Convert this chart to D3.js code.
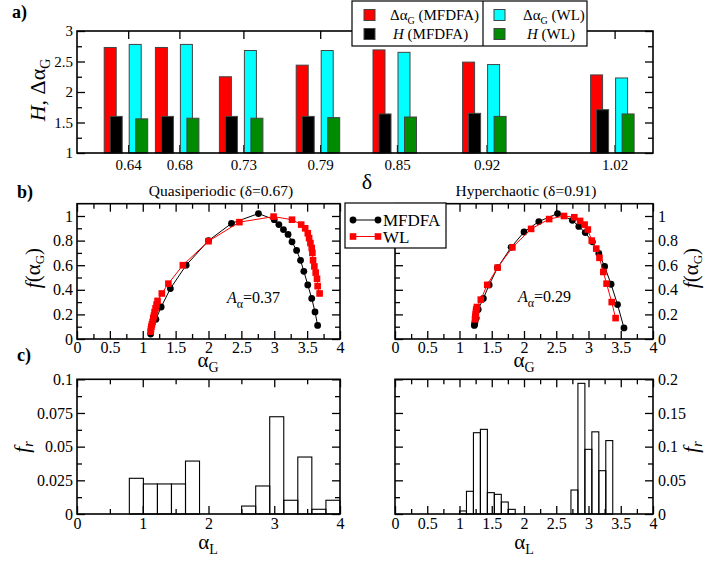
<!DOCTYPE html>
<html><head><meta charset="utf-8">
<script src="https://cdn.jsdelivr.net/npm/d3@7"></script>
<style>body{margin:0;background:#fff} svg text{font-family:"Liberation Serif","Times New Roman",Times,serif}</style>
</head><body><svg id="c" width="706" height="561"></svg>
<script>
// ---------------- DATA ----------------
// panel a
const deltas = [0.64, 0.68, 0.73, 0.79, 0.85, 0.92, 1.02];
const deltaLabels = ["0.64", "0.68", "0.73", "0.79", "0.85", "0.92", "1.02"];
const dAlphaMFDFA = [2.73, 2.73, 2.25, 2.44, 2.69, 2.49, 2.28];
const hMFDFA = [1.60, 1.60, 1.60, 1.60, 1.64, 1.65, 1.71];
const dAlphaWL = [2.78, 2.78, 2.68, 2.68, 2.65, 2.45, 2.23];
const hWL = [1.56, 1.57, 1.57, 1.58, 1.59, 1.60, 1.64];
const aYMajor = [1, 1.5, 2, 2.5, 3];
const aYMinor = [1.25, 1.75, 2.25, 2.75];

// panel b (quasiperiodic, delta = 0.67)
const qpMfdfaAlpha = [1.12, 1.20, 1.28, 1.42, 1.66, 2.00, 2.35, 2.76, 3.00, 3.07, 3.14, 3.21, 3.27, 3.34, 3.40, 3.45, 3.51, 3.57, 3.62, 3.66];
const qpMfdfaF     = [0.04, 0.16, 0.26, 0.41, 0.60, 0.80, 0.94, 1.02, 0.97, 0.93, 0.89, 0.85, 0.79, 0.72, 0.64, 0.55, 0.44, 0.33, 0.22, 0.11];
const qpWlAlpha = [1.12, 1.125, 1.13, 1.14, 1.15, 1.16, 1.17, 1.18, 1.195, 1.21, 1.225, 1.29, 1.39, 1.61, 2.00, 2.47, 2.99, 3.27, 3.41, 3.47, 3.51, 3.53, 3.55, 3.57, 3.58, 3.59, 3.61, 3.63, 3.65, 3.66, 3.69];
const qpWlF     = [0.06, 0.08, 0.10, 0.12, 0.14, 0.17, 0.19, 0.22, 0.25, 0.28, 0.31, 0.37, 0.45, 0.60, 0.795, 0.95, 0.995, 0.97, 0.93, 0.90, 0.86, 0.82, 0.78, 0.74, 0.70, 0.64, 0.59, 0.54, 0.49, 0.43, 0.37];
// panel b (hyperchaotic, delta = 0.91)
const hcMfdfaAlpha = [1.23, 1.235, 1.24, 1.26, 1.29, 1.37, 1.46, 1.59, 1.80, 2.00, 2.23, 2.52, 2.75, 2.85, 2.95, 3.06, 3.16, 3.25, 3.35, 3.45, 3.55];
const hcMfdfaF     = [0.11, 0.12, 0.14, 0.17, 0.24, 0.33, 0.44, 0.58, 0.745, 0.87, 0.955, 1.02, 0.965, 0.915, 0.865, 0.79, 0.695, 0.59, 0.445, 0.28, 0.09];
const hcWlAlpha = [1.24, 1.245, 1.25, 1.255, 1.26, 1.27, 1.33, 1.43, 1.59, 1.82, 2.11, 2.39, 2.62, 2.78, 2.87, 2.94, 2.99, 3.05, 3.12, 3.17, 3.23, 3.28, 3.36, 3.42];
const hcWlF     = [0.16, 0.18, 0.20, 0.22, 0.24, 0.26, 0.32, 0.44, 0.58, 0.745, 0.895, 0.975, 1.00, 0.99, 0.96, 0.93, 0.89, 0.80, 0.735, 0.66, 0.545, 0.45, 0.30, 0.17];
const bXMajor = [0, 0.5, 1, 1.5, 2, 2.5, 3, 3.5, 4];
const bXLabels = ["0", "0.5", "1", "1.5", "2", "2.5", "3", "3.5", "4"];
const bXMinor = [0.25, 0.75, 1.25, 1.75, 2.25, 2.75, 3.25, 3.75];
const bYMajor = [0, 0.2, 0.4, 0.6, 0.8, 1];
const bYLabels = ["0", "0.2", "0.4", "0.6", "0.8", "1"];
const bYMinor = [0.1, 0.3, 0.5, 0.7, 0.9];

// panel c histograms
const histLStart = [0.796, 1.010, 1.223, 1.437, 1.650, 2.504, 2.718, 2.931, 3.145, 3.358, 3.572, 3.786];
const histLHeight = [0.0265, 0.0223, 0.0223, 0.0223, 0.0393, 0.0059, 0.0208, 0.0722, 0.0102, 0.0423, 0.0035, 0.0102];
const histLWidth = 0.2136;
const histRStart = [1.000, 1.108, 1.216, 1.324, 1.432, 1.540, 1.648, 1.756, 2.728, 2.836, 2.944, 3.052, 3.160, 3.268];
const histRHeight = [0.0045, 0.0337, 0.1207, 0.1257, 0.0317, 0.0292, 0.0178, 0.0069, 0.0356, 0.194, 0.096, 0.122, 0.0643, 0.109];
const histRWidth = 0.108;
const cLXMajor = [0, 1, 2, 3, 4];
const cLXLabels = ["0", "1", "2", "3", "4"];
const cLXMinor = [0.5, 1.5, 2.5, 3.5];
const cLYMajor = [0, 0.025, 0.05, 0.075, 0.1];
const cLYLabels = ["0", "0.025", "0.05", "0.075", "0.1"];
const cLYMinor = [0.0125, 0.0375, 0.0625, 0.0875];
const cRYMajor = [0, 0.05, 0.1, 0.15, 0.2];
const cRYLabels = ["0", "0.05", "0.1", "0.15", "0.2"];
const cRYMinor = [0.025, 0.075, 0.125, 0.175];

// ---------------- DRAW ----------------
const FONT = '"Liberation Serif","Times New Roman",Times,serif';
const svg = d3.select("#c");
svg.append("rect").attr("width", 706).attr("height", 561).attr("fill", "#fff");

function lab(arr, vals) { return d => arr[vals.indexOf(d)]; }

function axes(g, x, y, o) {
  const [x0, x1] = x.range(), [y0, y1] = y.range();
  const mk = (axis, tr, fs) => {
    const a = g.append("g").attr("transform", tr).call(axis);
    a.attr("font-family", FONT).attr("font-size", fs || 15);
    a.select(".domain").remove();
    a.selectAll("line").attr("stroke", "#000").attr("stroke-width", 1.3);
    a.selectAll("text").attr("fill", "#000");
    a.selectAll("text").filter(function () { return this.textContent === ""; }).remove();
    return a;
  };
  const M = 8, m = 5;
  mk(d3.axisBottom(x).tickValues(o.xMaj).tickSize(-M).tickPadding(o.xPad).tickFormat(o.xFmt || ""), `translate(0,${y0})`, o.fs);
  if (o.xMin) mk(d3.axisBottom(x).tickValues(o.xMin).tickSize(-m).tickFormat(""), `translate(0,${y0})`);
  mk(d3.axisTop(x).tickValues(o.xTop || o.xMaj).tickSize(-M).tickFormat(""), `translate(0,${y1})`);
  if (o.xMin) mk(d3.axisTop(x).tickValues(o.xMin).tickSize(-m).tickFormat(""), `translate(0,${y1})`);
  const lf = o.yRight ? "" : o.yFmt, rf = o.yRight ? o.yFmt : "";
  mk(d3.axisLeft(y).tickValues(o.yMaj).tickSize(-M).tickPadding(o.yPad).tickFormat(lf || ""), `translate(${x0},0)`, o.fs);
  mk(d3.axisLeft(y).tickValues(o.yMin).tickSize(-m).tickFormat(""), `translate(${x0},0)`);
  mk(d3.axisRight(y).tickValues(o.yMaj).tickSize(-M).tickPadding(o.yPad).tickFormat(rf || ""), `translate(${x1},0)`, o.fs);
  mk(d3.axisRight(y).tickValues(o.yMin).tickSize(-m).tickFormat(""), `translate(${x1},0)`);
}
function frame(g, x, y) {
  const [x0, x1] = x.range(), [y0, y1] = y.range();
  g.append("rect").attr("x", x0).attr("y", y1).attr("width", x1 - x0).attr("height", y0 - y1)
    .attr("fill", "none").attr("stroke", "#000").attr("stroke-width", 1.6);
}
function txt(x, y, size, opts) {
  const t = svg.append("text").attr("x", x).attr("y", y).attr("font-family", FONT)
    .attr("font-size", size).attr("fill", "#000");
  if (opts && opts.anchor) t.attr("text-anchor", opts.anchor);
  if (opts && opts.rot) t.attr("transform", `rotate(${opts.rot},${x},${y})`);
  if (opts && opts.bold) t.attr("font-weight", "bold");
  return t;
}
function span(t, s, o) {
  const e = t.append("tspan").text(s);
  if (o && o.it) e.attr("font-style", "italic");
  if (o && o.dy) e.attr("dy", o.dy);
  if (o && o.fs) e.attr("font-size", o.fs);
  return e;
}

// ===== Panel a =====
const ga = svg.append("g");
const xa = d3.scaleLinear().domain([0.6, 1.05]).range([77, 653]);
const ya = d3.scaleLinear().domain([1, 3]).range([153, 31]);
axes(ga, xa, ya, {
  xMaj: deltas, xPad: 6, xFmt: lab(deltaLabels, deltas),
  yMaj: aYMajor, yMin: aYMinor, yPad: 4, yFmt: d3.format("~g"), fs: 15
});
const barW = 12;
const series = [
  { v: dAlphaMFDFA, c: "#ff0000", off: -18 },
  { v: hMFDFA, c: "#000000", off: -12 },
  { v: dAlphaWL, c: "#00ffff", off: 7 },
  { v: hWL, c: "#008b00", off: 13.5 }
];
series.forEach(s => {
  ga.selectAll(null).data(deltas).enter().append("rect")
    .attr("x", (d) => xa(d) + s.off - barW / 2)
    .attr("y", (d, i) => ya(s.v[i]))
    .attr("width", barW)
    .attr("height", (d, i) => ya(1) - ya(s.v[i]))
    .attr("fill", s.c).attr("stroke", "#444").attr("stroke-width", 1);
});
frame(ga, xa, ya);

// ===== Panel b =====
const yb = d3.scaleLinear().domain([0, 1.1]).range([339, 203.7]);
const xbL = d3.scaleLinear().domain([0, 4]).range([77, 340]);
const xbR = d3.scaleLinear().domain([0, 4]).range([395, 653]);
const gbL = svg.append("g"), gbR = svg.append("g");
const bOpts = { xMaj: bXMajor, xMin: bXMinor, xPad: 3, xFmt: lab(bXLabels, bXMajor),
  yMaj: bYMajor, yMin: bYMinor, yPad: 4, yFmt: lab(bYLabels, bYMajor), fs: 16 };
axes(gbL, xbL, yb, bOpts);
axes(gbR, xbR, yb, Object.assign({}, bOpts, { yRight: true, yPad: 5 }));
frame(gbL, xbL, yb); frame(gbR, xbR, yb);

function curve(g, x, y, ax, fy, color, marker) {
  const pts = ax.map((a, i) => [a, fy[i]]);
  g.append("path").datum(pts).attr("fill", "none").attr("stroke", color).attr("stroke-width", 1)
    .attr("d", d3.line().x(d => x(d[0])).y(d => y(d[1])));
  if (marker === "circle") {
    g.selectAll(null).data(pts).enter().append("circle")
      .attr("cx", d => x(d[0])).attr("cy", d => y(d[1])).attr("r", 3.4).attr("fill", color);
  } else {
    g.selectAll(null).data(pts).enter().append("rect")
      .attr("x", d => x(d[0]) - 3.3).attr("y", d => y(d[1]) - 3.3)
      .attr("width", 6.6).attr("height", 6.6).attr("fill", color);
  }
}
curve(gbL, xbL, yb, qpMfdfaAlpha, qpMfdfaF, "#000", "circle");
curve(gbL, xbL, yb, qpWlAlpha, qpWlF, "#ff0000", "square");
curve(gbR, xbR, yb, hcMfdfaAlpha, hcMfdfaF, "#000", "circle");
curve(gbR, xbR, yb, hcWlAlpha, hcWlF, "#ff0000", "square");

// ===== Panel c =====
const ycL = d3.scaleLinear().domain([0, 0.1]).range([514, 379.3]);
const ycR = d3.scaleLinear().domain([0, 0.2]).range([514, 379.3]);
const xcL = d3.scaleLinear().domain([0, 4]).range([77, 340]);
const xcR = d3.scaleLinear().domain([0, 4]).range([395, 653]);
const gcL = svg.append("g"), gcR = svg.append("g");
function hist(g, x, y, starts, hs, w) {
  g.selectAll(null).data(starts).enter().append("rect")
    .attr("x", d => x(d)).attr("width", d => x(d + w) - x(d))
    .attr("y", (d, i) => y(hs[i])).attr("height", (d, i) => y(0) - y(hs[i]))
    .attr("fill", "none").attr("stroke", "#000").attr("stroke-width", 1.1);
}
hist(gcL, xcL, ycL, histLStart, histLHeight, histLWidth);
hist(gcR, xcR, ycR, histRStart, histRHeight, histRWidth);
axes(gcL, xcL, ycL, { xMaj: cLXMajor, xMin: cLXMinor, xPad: 4, xFmt: lab(cLXLabels, cLXMajor),
  yMaj: cLYMajor, yMin: cLYMinor, yPad: 4, yFmt: lab(cLYLabels, cLYMajor), fs: 16 });
axes(gcR, xcR, ycR, { xMaj: bXMajor, xMin: bXMinor, xPad: 4, xFmt: lab(bXLabels, bXMajor),
  yMaj: cRYMajor, yMin: cRYMinor, yPad: 5, yFmt: lab(cRYLabels, cRYMajor), fs: 16, yRight: true });
frame(gcL, xcL, ycL); frame(gcR, xcR, ycR);

// ===== Texts =====
txt(12, 18, 18, { bold: true }).text("a)");
txt(17, 198, 18, { bold: true }).text("b)");
txt(17, 361, 18, { bold: true }).text("c)");

// panel a y label
{ const t = txt(45, 90, 22, { anchor: "middle", rot: -90 });
  span(t, "H", { it: true }); span(t, ", Δα"); span(t, "G", { dy: 5, fs: 14 }); }
// delta
txt(367, 189, 22, { anchor: "middle" }).text("δ");

// titles
txt(221, 196, 15.5, { anchor: "middle" }).text("Quasiperiodic (δ=0.67)");
txt(526, 196, 15.5, { anchor: "middle" }).text("Hyperchaotic (δ=0.91)");

// f(alpha_G) labels
function fAlpha(x, y) {
  const t = txt(x, y, 21, { anchor: "middle", rot: -90 });
  span(t, "f", { it: true }); span(t, "(α"); span(t, "G", { dy: 4, fs: 13 }); span(t, ")", { dy: -4 });
}
fAlpha(40, 268);
fAlpha(698, 268);
// alpha_G x labels
function alphaSub(x, y, sub) {
  const t = txt(x, y, 21, { anchor: "middle" });
  span(t, "α"); span(t, sub, { dy: 5, fs: 14 });
}
alphaSub(208, 367, "G");
alphaSub(524, 367, "G");
alphaSub(208, 549, "L");
alphaSub(524, 549, "L");

// A_alpha labels
function aAlpha(x, y, v) {
  const t = txt(x, y, 16);
  span(t, "A", { it: true }); span(t, "α", { dy: 5, fs: 12 }); span(t, "=" + v, { dy: -5 });
}
aAlpha(227, 303, "0.37");
aAlpha(518, 302, "0.29");

// f_r labels
function fr(x, y) {
  const t = txt(x, y, 21, { anchor: "middle", rot: -90 });
  span(t, "f", { it: true }); span(t, "r", { dy: 4, fs: 14, it: true });
}
fr(29, 447);
fr(698, 447);

// ===== Legend panel b =====
{
  const g = svg.append("g");
  g.append("rect").attr("x", 345).attr("y", 203).attr("width", 101).attr("height", 45)
    .attr("fill", "#fff").attr("stroke", "#000").attr("stroke-width", 1.2);
  const rows = [{ c: "#000", m: "circle", l: "MFDFA", y: 220 }, { c: "#ff0000", m: "square", l: "WL", y: 236.5 }];
  rows.forEach(r => {
    g.append("line").attr("x1", 353).attr("x2", 378).attr("y1", r.y).attr("y2", r.y).attr("stroke", r.c);
    [353, 378].forEach(px => {
      if (r.m === "circle") g.append("circle").attr("cx", px).attr("cy", r.y).attr("r", 3.4).attr("fill", r.c);
      else g.append("rect").attr("x", px - 3.3).attr("y", r.y - 3.3).attr("width", 6.6).attr("height", 6.6).attr("fill", r.c);
    });
    g.append("text").attr("x", 383).attr("y", r.y + 6).attr("font-family", FONT).attr("font-size", 17).text(r.l);
  });
}

// ===== Legend panel a =====
{
  const g = svg.append("g");
  g.append("rect").attr("x", 352).attr("y", 1).attr("width", 235).attr("height", 45)
    .attr("fill", "#fff").attr("stroke", "#000").attr("stroke-width", 1.2);
  g.append("line").attr("x1", 483).attr("x2", 483).attr("y1", 1).attr("y2", 46).attr("stroke", "#000").attr("stroke-width", 1.2);
  const items = [
    { c: "#ff0000", x: 364, y: 15, tx: 390, kind: "da", s: " (MFDFA)" },
    { c: "#000000", x: 364, y: 34, tx: 393, kind: "h", s: " (MFDFA)" },
    { c: "#00ffff", x: 494, y: 15, tx: 523, kind: "da", s: " (WL)" },
    { c: "#008b00", x: 494, y: 34, tx: 527, kind: "h", s: " (WL)" }
  ];
  items.forEach(it => {
    g.append("rect").attr("x", it.x).attr("y", it.y - 5.5).attr("width", 11).attr("height", 11)
      .attr("fill", it.c).attr("stroke", "#444").attr("stroke-width", 1);
    const t = g.append("text").attr("x", it.tx).attr("y", it.y + 5).attr("font-family", FONT).attr("font-size", 15);
    if (it.kind === "da") { span(t, "Δα"); span(t, "G", { dy: 4, fs: 10 }); span(t, it.s, { dy: -4 }); }
    else { span(t, "H", { it: true }); span(t, it.s); }
  });
}
</script>
</body></html>
